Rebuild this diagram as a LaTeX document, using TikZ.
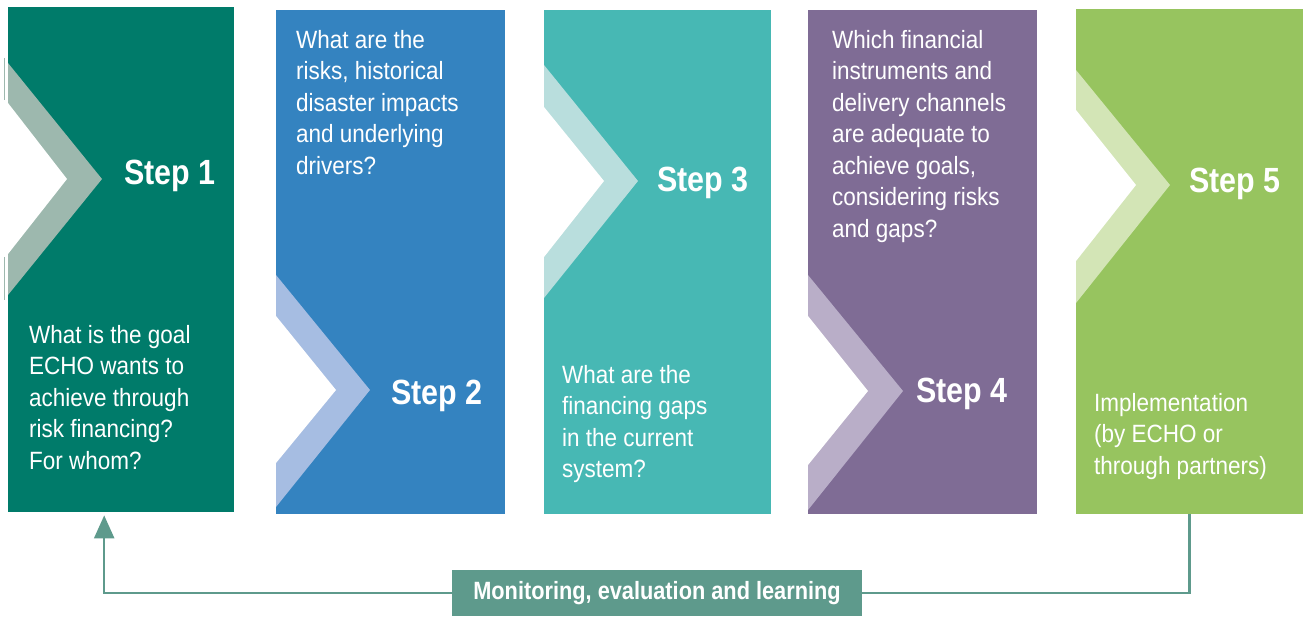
\documentclass[tikz,border=0pt]{standalone}
\usepackage{fontspec}
\setmainfont{Liberation Sans}[FakeStretch=0.9,BoldFeatures={FakeStretch=0.87}]
\usetikzlibrary{arrows.meta}

\definecolor{stepteal}{HTML}{007B6A}
\definecolor{stepteallite}{HTML}{9DB8AE}
\definecolor{stepblue}{HTML}{3483C0}
\definecolor{stepbluelite}{HTML}{A6BDE2}
\definecolor{stepturq}{HTML}{47B8B4}
\definecolor{stepturqlite}{HTML}{B9DEDD}
\definecolor{steppurple}{HTML}{7F6C95}
\definecolor{steppurplelite}{HTML}{B9AEC8}
\definecolor{stepgreen}{HTML}{97C45F}
\definecolor{stepgreenlite}{HTML}{D3E5B6}
\definecolor{loopgreen}{HTML}{5E9A8C}

\tikzset{
  stepbox/.style={anchor=north west,inner sep=0pt,draw=none},
  question/.style={anchor=north west,inner sep=0pt,align=left,text=white,
    font=\fontsize{25}{31.5}\selectfont},
  steplabel/.style={anchor=base west,inner sep=0pt,text=white,
    font=\fontsize{35}{40}\selectfont\bfseries},
  melbox/.style={fill=loopgreen,text=white,minimum width=410pt,minimum height=46pt,
    inner sep=0pt,font=\fontsize{25}{30}\selectfont\bfseries},
  loopline/.style={draw=loopgreen,line width=2.5pt}
}

\begin{document}
\begin{tikzpicture}[x=1pt,y=-1pt]
\useasboundingbox (0,0) rectangle (1303,617);

% the five columns
\node[stepbox,fill=stepteal,minimum width=226pt,minimum height=505pt] (box1) at (8,7) {};
\node[stepbox,fill=stepblue,minimum width=229pt,minimum height=504pt] (box2) at (276,10) {};
\node[stepbox,fill=stepturq,minimum width=227pt,minimum height=504pt] (box3) at (544,10) {};
\node[stepbox,fill=steppurple,minimum width=229pt,minimum height=504pt] (box4) at (808,10) {};
\node[stepbox,fill=stepgreen,minimum width=227pt,minimum height=505pt] (box5) at (1076,9) {};

% chevrons
\fill[stepteallite] (8,63) -- (102,179) -- (8,295) -- cycle;
\fill[white] (8,103) -- (67,179) -- (8,254) -- cycle;
\draw[stepteallite,line width=1pt] (4,58) -- (4,100);
\draw[stepteallite,line width=1pt] (4,257) -- (4,300);
\fill[stepbluelite] (276,275) -- (370,390) -- (276,507) -- cycle;
\fill[white] (276,316) -- (336,390) -- (276,463) -- cycle;
\fill[stepturqlite] (544,65) -- (638,181) -- (544,298) -- cycle;
\fill[white] (544,107) -- (604,181) -- (544,257) -- cycle;
\fill[steppurplelite] (808,275) -- (903,391) -- (808,510) -- cycle;
\fill[white] (808,316) -- (868,391) -- (808,465) -- cycle;
\fill[stepgreenlite] (1076,70) -- (1170,185) -- (1076,303) -- cycle;
\fill[white] (1076,110) -- (1136,185) -- (1076,261) -- cycle;

% step labels
\node[steplabel] (s1) at (124,185) {Step 1};
\node[steplabel] (s2) at (391,404) {Step 2};
\node[steplabel] (s3) at (657,192) {Step 3};
\node[steplabel] (s4) at (916,402) {Step 4};
\node[steplabel] (s5) at (1189,193) {Step 5};

% questions
\node[question] (q1) at (29,325) {What is the goal\\ECHO wants to\\achieve through\\risk financing?\\For whom?};
\node[question] (q2) at (296,30) {What are the\\risks, historical\\disaster impacts\\and underlying\\drivers?};
\node[question] (q3) at (562,365) {What are the\\financing gaps\\in the current\\system?};
\node[question] (q4) at (832,30) {Which financial\\instruments and\\delivery channels\\are adequate to\\achieve goals,\\considering risks\\and gaps?};
\node[question] (q5) at (1094,393) {Implementation\\(by ECHO or\\through partners)};

% feedback loop
\node[melbox] (mel) at (657,593) {Monitoring, evaluation and learning};
\draw[loopline] (box5.south) |- (mel.east);
\draw[loopline,-{Triangle[width=20pt,length=23pt]}] (mel.west) -| ([xshift=-17pt,yshift=-3pt]box1.south);
\end{tikzpicture}
\end{document}
